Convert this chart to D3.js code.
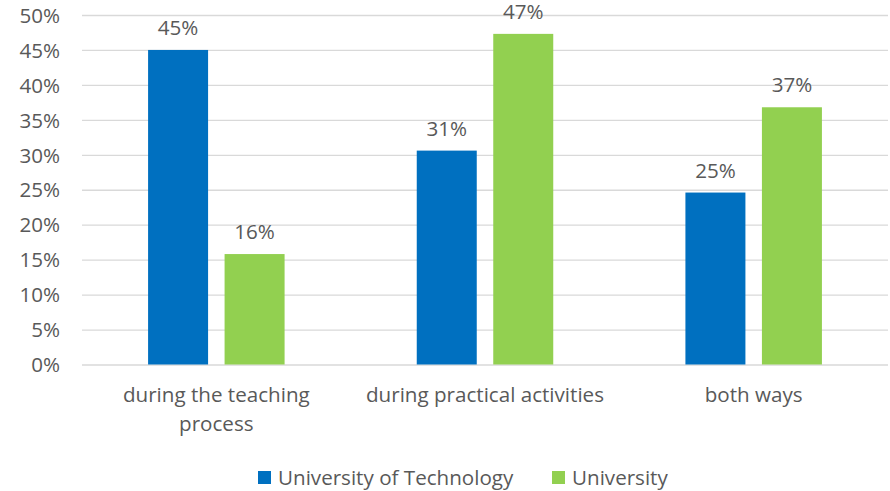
<!DOCTYPE html>
<html><head><meta charset="utf-8">
<script src="https://cdn.jsdelivr.net/npm/d3@7"></script>
<style>body{margin:0;background:#fff}svg{display:block}text{font-family:"Open Sans",sans-serif;fill:#595959}</style>
</head><body><svg id="c" width="890" height="491"></svg>
<script>
const categories = [["during the teaching","process"],["during practical activities"],["both ways"]];
const seriesNames = ["University of Technology","University"];
const seriesColors = ["#0070C0","#92D050"];
const techValues = [45.0, 30.6, 24.6];
const uniValues = [15.8, 47.3, 36.8];
const techLabels = ["45%","31%","25%"];
const uniLabels = ["16%","47%","37%"];
const yTicks = [0,5,10,15,20,25,30,35,40,45,50];

const FS = "20.6px";
const svg = d3.select("#c");
const L=82, R=888, T=15, B=364.5;
const x0 = d3.scaleBand().domain(d3.range(3)).range([L,R]).padding(0);
const y = d3.scaleLinear().domain([0,50]).range([B,T]);
const bw = x0.bandwidth();
const barW = 60, gap = 16.5;
const x1 = d3.scaleOrdinal().domain([0,1]).range([bw/2-barW-gap/2, bw/2+gap/2]);

const yAxis = d3.axisLeft(y).tickValues(yTicks).tickSize(-(R-L)).tickFormat(d=>d+"%");
const g = svg.append("g").attr("transform",`translate(${L},0)`).call(yAxis);
g.select(".domain").remove();
g.selectAll(".tick line").attr("stroke","#d9d9d9").attr("stroke-width",1.3);
g.selectAll(".tick text").attr("x",-22).attr("font-size",FS).attr("fill","#595959").attr("font-family","'Open Sans',sans-serif").attr("dy","0.35em");

const series = [techValues, uniValues];
const labels = [techLabels, uniLabels];
series.forEach((vals,s)=>{
  svg.append("g").selectAll("rect").data(vals).join("rect")
    .attr("x",(d,i)=>x0(i)+x1(s)).attr("width",barW)
    .attr("y",d=>y(d)).attr("height",d=>B-y(d)).attr("fill",seriesColors[s]);
  svg.append("g").selectAll("text").data(vals).join("text")
    .attr("x",(d,i)=>x0(i)+x1(s)+barW/2).attr("y",d=>y(d)-15)
    .attr("text-anchor","middle").attr("font-size",FS).text((d,i)=>labels[s][i]);
});

categories.forEach((lines,i)=>{
  lines.forEach((t,j)=>{
    svg.append("text").attr("x",x0(i)+bw/2).attr("y",402+j*29).attr("text-anchor","middle").attr("font-size",FS).text(t);
  });
});

const leg = [[258,278],[552,572]];
seriesNames.forEach((n,s)=>{
  svg.append("rect").attr("x",leg[s][0]).attr("y",471).attr("width",13).attr("height",13).attr("fill",seriesColors[s]);
  svg.append("text").attr("x",leg[s][1]).attr("y",485).attr("font-size",FS).text(n);
});
</script></body></html>
